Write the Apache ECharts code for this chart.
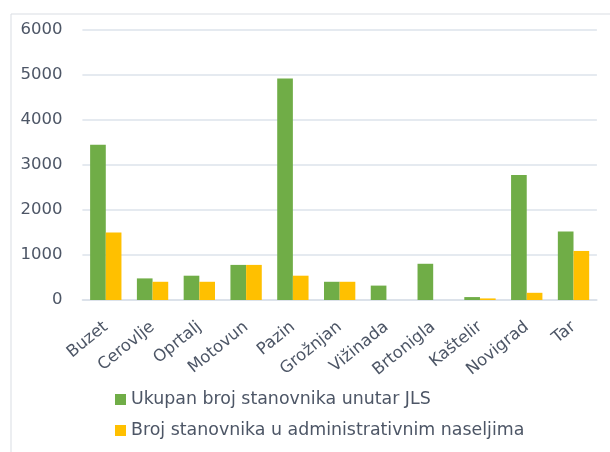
<!DOCTYPE html>
<html><head><meta charset="utf-8">
<script src="https://cdn.jsdelivr.net/npm/echarts@6/dist/echarts.min.js"></script>
<style>html,body{margin:0;padding:0;background:#fff;}#c{width:610px;height:452px;}</style>
</head><body><div id="c"></div>
<script>
const categories = ['Buzet','Cerovlje','Oprtalj','Motovun','Pazin','Grožnjan','Vižinada','Brtonigla','Kaštelir','Novigrad','Tar'];
const totalPop = [3450, 480, 540, 780, 4920, 405, 320, 805, 65, 2780, 1520];
const adminPop = [1500, 405, 405, 780, 540, 405, 0, 0, 35, 160, 1090];
const seriesNames = ['Ukupan broj stanovnika unutar JLS', 'Broj stanovnika u administrativnim naseljima'];
const yTicks = [0, 1000, 2000, 3000, 4000, 5000, 6000];

const chart = echarts.init(document.getElementById('c'), null, {renderer: 'canvas'});
const txt = '#4d5666';
const font = 'DejaVu Sans';
chart.setOption({
  animation: false,
  backgroundColor: '#fff',
  textStyle: {fontFamily: font},
  graphic: [{
    type: 'rect', left: 8.5, top: 11.5, silent: true,
    shape: {x: 0, y: 0, width: 640, height: 480},
    style: {fill: 'none', stroke: '#d9dde3', lineWidth: 1}
  }],
  grid: {left: 82.4, right: 13.1, top: 30, bottom: 152, containLabel: false},
  legend: {
    orient: 'vertical', left: 110, top: 386,
    itemWidth: 11, itemHeight: 11, itemGap: 14,
    icon: 'rect',
    textStyle: {color: txt, fontSize: 17.4, fontFamily: font},
    data: seriesNames
  },
  xAxis: {
    type: 'category', data: categories,
    axisLine: {show: true, lineStyle: {color: '#d9dfe8', width: 1.5}},
    axisTick: {show: false},
    axisLabel: {rotate: 39, interval: 0, color: txt, fontSize: 16.5, fontFamily: font, margin: 25}
  },
  yAxis: {
    type: 'value', min: yTicks[0], max: yTicks[yTicks.length-1], interval: 1000,
    axisLine: {show: false}, axisTick: {show: false},
    splitLine: {lineStyle: {color: '#dde3eb', width: 1.5}},
    axisLabel: {color: txt, fontSize: 16.5, fontFamily: font, margin: 20, formatter: v => String(v)}
  },
  series: [
    {name: seriesNames[0], type: 'bar', data: totalPop, barGap: '0%', barCategoryGap: '33%',
     itemStyle: {color: '#70ad47'}},
    {name: seriesNames[1], type: 'bar', data: adminPop,
     itemStyle: {color: '#ffc000'}}
  ]
});
</script></body></html>
